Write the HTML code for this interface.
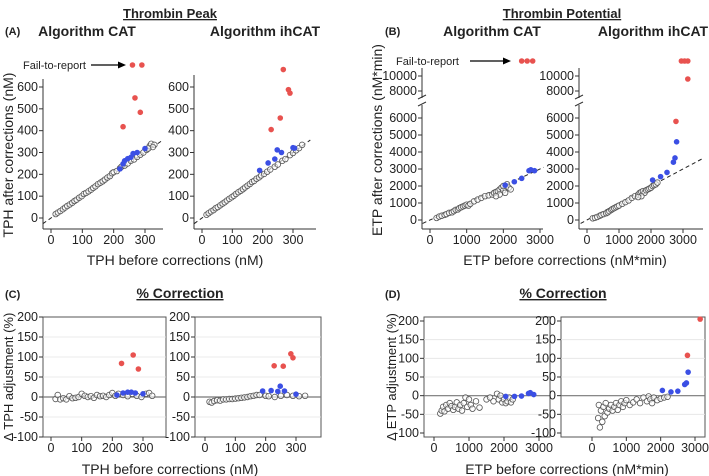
<!DOCTYPE html>
<html><head><meta charset="utf-8"><style>
body{margin:0;background:#fff;}
svg{display:block;font-family:"Liberation Sans",Arial,sans-serif;}
</style></head><body>
<svg id="fig" width="709" height="476" viewBox="0 0 709 476"></svg>
<script>
// ---------- DATA ----------
const aCatOpenX=[15,22,30,38,45,52,60,68,75,82,90,98,105,112,120,128,135,142,150,158,165,172,180,188,195,200,210,220,225,235,245,255,265,275,285,295,305,315,320,330,325,310];
const aCatOpenY=[18,25,32,40,48,55,62,70,78,84,93,100,110,115,122,130,138,145,155,162,168,176,185,192,205,210,215,228,235,240,250,262,268,280,290,300,312,330,340,335,325,318];
const aCatBlueX=[220,230,235,245,255,262,275,300];
const aCatBlueY=[225,248,262,272,278,295,300,318];
const aCatRedX=[230,268,285,260,290];
const aCatRedY=[418,550,484,700,700];
const aIhOpenX=[15,22,30,38,45,52,60,68,75,82,90,98,105,112,120,128,135,142,150,158,165,172,180,188,195,205,215,225,240,250,265,275,290,300,310,320,330];
const aIhOpenY=[15,22,30,36,45,50,58,66,72,80,88,95,102,110,118,125,132,140,148,156,165,170,180,186,195,202,212,222,235,245,262,270,288,298,310,320,335];
const aIhBlueX=[190,218,240,248,262,300,305];
const aIhBlueY=[218,252,270,312,300,322,320];
const aIhRedX=[228,258,268,285,290];
const aIhRedY=[405,458,680,588,572];
const bCatOpenX=[180,250,320,400,450,520,600,650,700,760,800,850,900,950,1000,1050,1100,1200,1300,1400,1500,1600,1700,1750,1800,1850,1900,1950,2000,2050,2100,2150,2200,2000,1900,1800];
const bCatOpenY=[120,200,250,300,350,420,450,520,600,620,700,750,800,850,900,850,950,1100,1200,1300,1400,1450,1500,1600,1650,1700,1800,1900,1750,1600,2100,1900,1800,2000,1500,1400];
const bCatBlueX=[2050,2300,2500,2700,2750,2850];
const bCatBlueY=[2050,2250,2450,2900,2950,2900];
const bCatRedX=[2500,2650,2800];
const bCatRedY=[12000,12000,12000];
const bIhOpenX=[180,250,320,400,450,520,600,650,700,760,800,850,900,950,1000,1100,1200,1300,1400,1500,1600,1650,1700,1750,1800,1850,1900,1950,2000,2050,2100,2150,2200,1700,1600];
const bIhOpenY=[100,130,180,250,300,350,400,450,520,600,650,700,750,800,850,950,1050,1150,1300,1400,1500,1600,1650,1700,1600,1750,1800,1850,1900,2000,2050,2100,2200,1400,1350];
const bIhBlueX=[2050,2300,2500,2700,2750,2800];
const bIhBlueY=[2350,2550,2800,3400,3650,4600];
const bIhRedX=[2780,2950,3050,3150,3150];
const bIhRedY=[5800,12000,12000,12000,9600];
const cCatOpenX=[15,22,30,40,50,60,70,80,90,100,110,120,130,140,150,160,170,180,190,200,210,220,235,250,265,280,295,310,320,330];
const cCatOpenY=[-5,5,-6,-3,-6,2,-3,-2,0,8,3,0,2,-2,5,2,3,0,5,10,3,8,5,2,8,3,0,8,10,3];
const cCatBlueX=[215,235,250,262,275,300];
const cCatBlueY=[5,10,12,12,10,8];
const cCatRedX=[230,268,285];
const cCatRedY=[84,105,70];
const cIhOpenX=[15,22,30,40,50,60,70,80,90,100,110,120,130,140,150,160,170,180,200,210,230,250,270,290,310,330];
const cIhOpenY=[-12,-14,-10,-8,-9,-6,-6,-5,-5,-4,-3,-2,-1,0,2,3,5,5,3,2,0,3,5,3,2,3];
const cIhBlueX=[190,218,240,248,262,300];
const cIhBlueY=[15,16,14,27,15,7];
const cIhRedX=[228,258,283,290];
const cIhRedY=[78,77,108,98];
const dCatOpenX=[180,220,260,300,350,400,450,500,550,600,650,700,750,800,850,900,950,1000,1050,1100,1200,1300,1500,1600,1700,1800,1850,1900,1950,2000,2050,2100,2150,2200,2250];
const dCatOpenY=[-48,-40,-30,-42,-25,-35,-20,-28,-38,-30,-18,-35,-25,-40,-20,-5,-30,-10,-25,-35,-15,-32,-10,-5,-15,5,-10,0,-18,-10,-20,-15,-5,-18,-10];
const dCatBlueX=[2050,2300,2500,2700,2750,2850];
const dCatBlueY=[-2,-2,-1,6,8,3];
const dIhOpenX=[180,200,230,260,300,330,370,400,450,500,550,600,650,700,750,800,850,900,950,1000,1100,1200,1300,1400,1500,1600,1650,1700,1750,1800,1900,2000,2100,2200];
const dIhOpenY=[-60,-25,-85,-40,-70,-30,-55,-20,-45,-35,-25,-40,-30,-20,-38,-25,-15,-30,-20,-12,-25,-18,-10,-20,-5,-15,-2,-10,-20,-5,-12,-8,-5,-3];
const dIhBlueX=[2050,2300,2500,2700,2750,2800];
const dIhBlueY=[14,10,12,30,34,63];
const dIhRedX=[2780,3150];
const dIhRedY=[108,205];
const tphTicks=[0,100,200,300];
const etpTicks=[0,1000,2000,3000];
const tphYTicks=[0,100,200,300,400,500,600];
const etpYTicks=[0,1000,2000,3000,4000,5000,6000];
const etpUpperTicks=[8000,10000];
const pctTicks=[-100,-50,0,50,100,150,200];

// ---------- DRAW ----------
const NS='http://www.w3.org/2000/svg';
const svg=document.getElementById('fig');
function el(tag,attrs,parent,text){const e=document.createElementNS(NS,tag);for(const k in attrs)e.setAttribute(k,attrs[k]);if(text!==undefined)e.textContent=text;(parent||svg).appendChild(e);return e;}
function lin(d0,d1,p0,p1){return v=>p0+(v-d0)*(p1-p0)/(d1-d0);}
function txt(x,y,s,size,anchor,weight,name,extra){const t=el('text',Object.assign({x:x,y:y,'font-size':size,'text-anchor':anchor||'middle','font-weight':weight||'normal',fill:'#222'},extra||{}),svg,s);


return t;}
function pts(g,X,Y,sx,sy,kind,name){for(let i=0;i<X.length;i++){const c=el('circle',{cx:sx(X[i]),cy:sy(Y[i]),r:2.8,fill:kind==='open'?'#fff':(kind==='blue'?'#3b4fe4':'#e8524f'),stroke:kind==='open'?'#555':'none','stroke-width':0.8,'fill-opacity':kind==='open'?0.6:1},g);

}}
function line(x1,y1,x2,y2,st,w,dash,g){return el('line',{x1:x1,y1:y1,x2:x2,y2:y2,stroke:st,'stroke-width':w||1,'stroke-dasharray':dash||'none'},g);}

// titles
txt(170,18,'Thrombin Peak',13,'middle','bold','thrombin-peak-title',{'text-decoration':'underline'});
txt(562,18,'Thrombin Potential',13,'middle','bold','thrombin-potential-title',{'text-decoration':'underline'});
txt(5,35,'(A)',11,'start','bold','panel-a-label');
txt(385,35,'(B)',11,'start','bold','panel-b-label');
txt(87,36,'Algorithm CAT',14,'middle','bold','panel-a-cat-title');
txt(265,36,'Algorithm ihCAT',14,'middle','bold','panel-a-ihcat-title');
txt(492,36,'Algorithm CAT',14,'middle','bold','panel-b-cat-title');
txt(653,36,'Algorithm ihCAT',14,'middle','bold','panel-b-ihcat-title');
txt(5,298,'(C)',11,'start','bold','panel-c-label');
txt(385,298,'(D)',11,'start','bold','panel-d-label');
txt(180,298,'% Correction',14,'middle','bold','panel-c-title',{'text-decoration':'underline'});
txt(563,298,'% Correction',14,'middle','bold','panel-d-title',{'text-decoration':'underline'});
txt(175,265,'TPH before corrections (nM)',14,'middle','normal','panel-a-x-title');
txt(565,265,'ETP before corrections (nM*min)',14,'middle','normal','panel-b-x-title');
txt(170,474,'TPH before corrections (nM)',14,'middle','normal','panel-c-x-title');
txt(567,474,'ETP before corrections (nM*min)',14,'middle','normal','panel-d-x-title');
txt(0,0,'TPH after corrections (nM)',14,'middle','normal','panel-a-y-title',{transform:'translate(13,155) rotate(-90)'});
txt(0,0,'ETP after corrections (nM*min)',14,'middle','normal','panel-b-y-title',{transform:'translate(382,140) rotate(-90)'});
txt(0,0,'\u0394 TPH adjustment (%)',13,'middle','normal','panel-c-y-title',{transform:'translate(13,377) rotate(-90)'});
txt(0,0,'\u0394 ETP adjustment (%)',13,'middle','normal','panel-d-y-title',{transform:'translate(396,377) rotate(-90)'});
// fail-to-report
txt(23,69,'Fail-to-report',11,'start','normal','fail-to-report-label-a');
txt(396,65,'Fail-to-report',11,'start','normal','fail-to-report-label-b');
line(91,65,120,65,'#000',1.2);el('polygon',{points:'126,65 118,61.5 118,68.5',fill:'#000'});
line(470,61,504,61,'#000',1.2);el('polygon',{points:'511,61 503,57.5 503,64.5',fill:'#000'});

function scatterPanel(o){
  const g=el('g',{});
  
  
  const sx=lin(o.xd[0],o.xd[1],o.xp[0],o.xp[1]);
  const sy=lin(o.yd[0],o.yd[1],o.yp[0],o.yp[1]);
  const syU=o.upper?lin(o.upper.d[0],o.upper.d[1],o.upper.p[0],o.upper.p[1]):null;
  if(o.box){
    el('rect',{x:o.L,y:o.T,width:o.R-o.L,height:o.B-o.T,fill:'none',stroke:'#555','stroke-width':1},g);
    o.yt.forEach(v=>{if(v!==0&&v!==o.yt[0]&&v!==o.yt[o.yt.length-1])line(o.L,sy(v),o.R,sy(v),'#e4e4e4',0.8,null,g);});
    line(o.L,sy(0),o.R,sy(0),'#777',1.2,null,g);
  } else {
    line(o.L,o.B,o.R,o.B,'#333',1,null,g);
    if(o.upper){line(o.L,o.B,o.L,o.brk+4,'#333',1,null,g);line(o.L,o.brk-3,o.L,o.T,'#333',1,null,g);
      line(o.L-4,o.brk+5,o.L+4,o.brk+1,'#333',1,null,g);line(o.L-4,o.brk-2,o.L+4,o.brk-6,'#333',1,null,g);}
    else line(o.L,o.B,o.L,o.T,'#333',1,null,g);
    const lo=o.xd0,hi=o.xd1;
    line(sx(lo),sy(lo),sx(hi),sy(hi),'#222',1,'4,3',g);
  }
  o.xt.forEach(v=>{line(sx(v),o.B,sx(v),o.B+4,'#333',1,null,g);
    const t=el('text',{x:sx(v),y:o.B+15,'font-size':12.5,'text-anchor':'middle',fill:'#222'},g,String(v));
    
    });
  o.yt.forEach(v=>{line(o.L-4,sy(v),o.L,sy(v),'#333',1,null,g);
    const t=el('text',{x:o.L-5,y:sy(v)+4,'font-size':12.5,'text-anchor':'end',fill:'#222'},g,String(v));
    
    });
  if(o.upper)o.upper.t.forEach(v=>{line(o.L-4,syU(v),o.L,syU(v),'#333',1,null,g);
    const t=el('text',{x:o.L-5,y:syU(v)+4,'font-size':12.5,'text-anchor':'end',fill:'#222'},g,String(v));
    
    });
  const yf=o.upper?(v=>v>=12000?o.failY:(v>7000?syU(v):sy(v))):(v=>v>=700?o.failY||sy(v):sy(v));
  pts(g,o.open[0],o.open[1],sx,yf,'open','open-point');
  pts(g,o.blue[0],o.blue[1],sx,yf,'blue','blue-point');
  if(o.red)pts(g,o.red[0],o.red[1],sx,yf,'red','red-point');
}
scatterPanel({name:'panel-a-cat',xd:[0,300],xp:[51,145],yd:[0,600],yp:[218,87],L:43,R:163,T:79,B:229,xd0:-26,xd1:357,xt:tphTicks,yt:tphYTicks,failY:65,
  open:[aCatOpenX,aCatOpenY],blue:[aCatBlueX,aCatBlueY],red:[aCatRedX,aCatRedY]});
scatterPanel({name:'panel-a-ihcat',xd:[0,300],xp:[202,293],yd:[0,600],yp:[218,87],L:194,R:316,T:75,B:229,xd0:-26,xd1:357,xt:tphTicks,yt:tphYTicks,
  open:[aIhOpenX,aIhOpenY],blue:[aIhBlueX,aIhBlueY],red:[aIhRedX,aIhRedY]});
scatterPanel({name:'panel-b-cat',xd:[0,3000],xp:[430,540],yd:[0,6000],yp:[220,118],L:422,R:543,T:68,B:229,brk:101,xd0:-200,xd1:3100,xt:etpTicks,yt:etpYTicks,failY:61,
  upper:{d:[8000,10000],p:[91,76],t:etpUpperTicks},open:[bCatOpenX,bCatOpenY],blue:[bCatBlueX,bCatBlueY],red:[bCatRedX,bCatRedY]});
scatterPanel({name:'panel-b-ihcat',xd:[0,3000],xp:[587,683],yd:[0,6000],yp:[220,118],L:579,R:703,T:68,B:229,brk:101,xd0:-200,xd1:3600,xt:etpTicks,yt:etpYTicks,failY:61,
  upper:{d:[8000,10000],p:[91,76],t:etpUpperTicks},open:[bIhOpenX,bIhOpenY],blue:[bIhBlueX,bIhBlueY],red:[bIhRedX,bIhRedY]});
scatterPanel({name:'panel-c-cat',box:true,xd:[0,300],xp:[51,143],yd:[-100,200],yp:[437,317],L:43,R:166,T:317,B:437,xt:tphTicks,yt:pctTicks,
  open:[cCatOpenX,cCatOpenY],blue:[cCatBlueX,cCatBlueY],red:[cCatRedX,cCatRedY]});
scatterPanel({name:'panel-c-ihcat',box:true,xd:[0,300],xp:[205,296],yd:[-100,200],yp:[437,317],L:195,R:321,T:317,B:437,xt:tphTicks,yt:pctTicks,
  open:[cIhOpenX,cIhOpenY],blue:[cIhBlueX,cIhBlueY],red:[cIhRedX,cIhRedY]});
scatterPanel({name:'panel-d-cat',box:true,xd:[0,3000],xp:[434,539],yd:[-100,200],yp:[433,321],L:424,R:550,T:317,B:437,xt:etpTicks,yt:pctTicks,
  open:[dCatOpenX,dCatOpenY],blue:[dCatBlueX,dCatBlueY]});
scatterPanel({name:'panel-d-ihcat',box:true,xd:[0,3000],xp:[592,695],yd:[-100,200],yp:[433,321],L:561,R:705,T:317,B:437,xt:etpTicks,yt:pctTicks,
  open:[dIhOpenX,dIhOpenY],blue:[dIhBlueX,dIhBlueY],red:[dIhRedX,dIhRedY]});
</script>
</body></html>
